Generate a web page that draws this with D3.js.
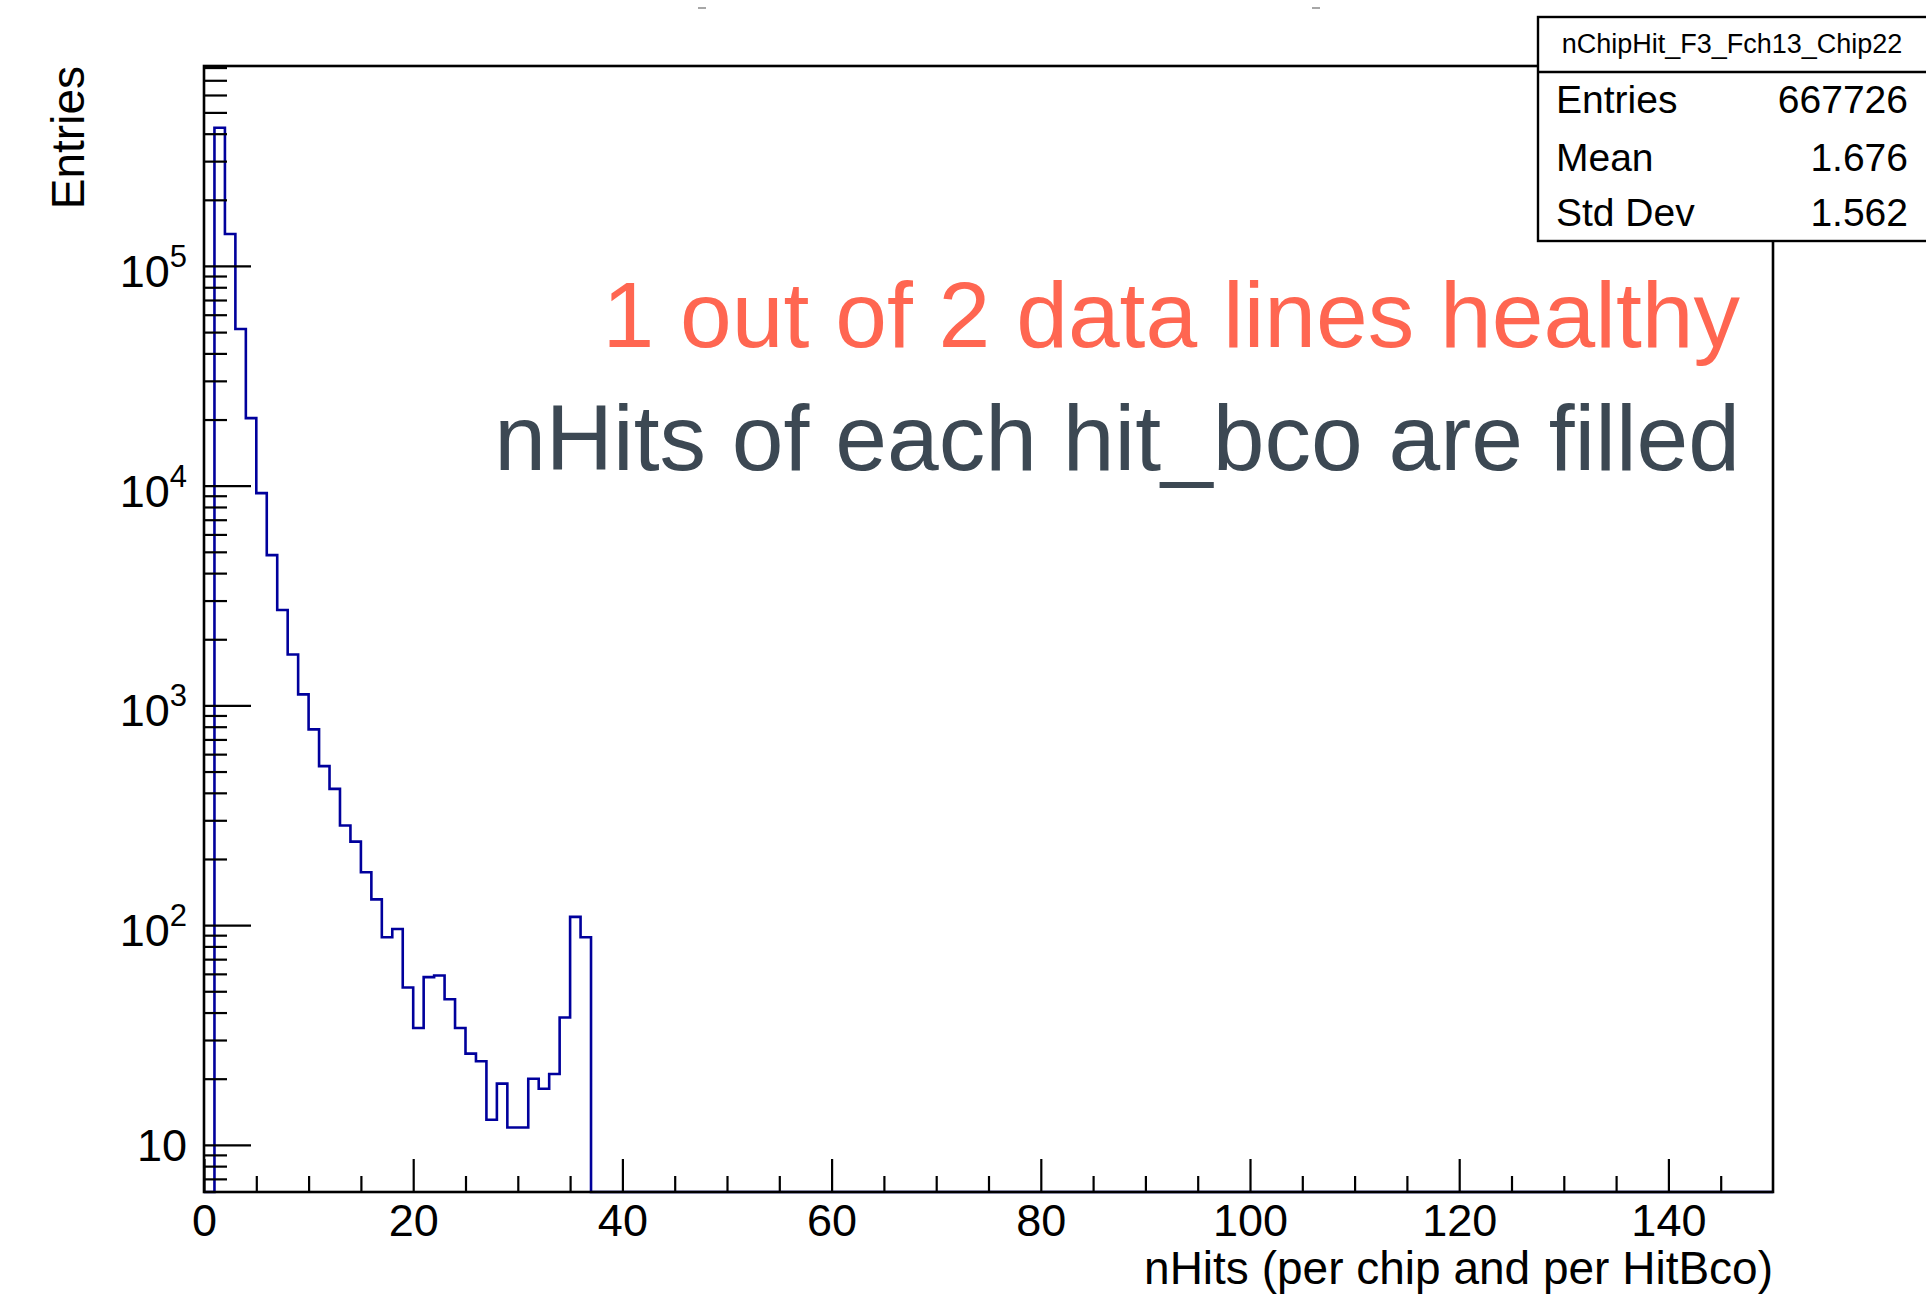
<!DOCTYPE html>
<html>
<head>
<meta charset="utf-8">
<script src="https://cdn.jsdelivr.net/npm/d3@7/dist/d3.min.js"></script>
<style>
  html, body { margin: 0; padding: 0; background: #ffffff; }
  svg { display: block; }
  text { font-family: "Liberation Sans", Arial, Helvetica, sans-serif; }
</style>
</head>
<body>
<svg id="chart" width="1926" height="1295"></svg>
<script>
// Histogram of nHits per chip and per HitBco (unit-width bins, low edges below)
const binLowEdges = [1, 2, 3, 4, 5, 6, 7, 8, 9, 10, 11, 12, 13, 14, 15, 16, 17, 18,
                     19, 20, 21, 22, 23, 24, 25, 26, 27, 28, 29, 30, 31, 32, 33, 34, 35, 36];
const binCounts = [425600, 139700, 51640, 20300, 9250, 4830, 2716, 1706, 1122, 778, 529, 417,
                   284, 240, 174, 131, 88, 96, 52, 34, 58, 59, 46, 34,
                   26, 24, 13, 19, 12, 12, 20, 18, 21, 38, 109, 88];
const binWidth = 1;

const xMajorTicks = [0, 20, 40, 60, 80, 100, 120, 140];
const xMinorTicks = [5, 10, 15, 25, 30, 35, 45, 50, 55, 65, 70, 75, 85, 90, 95,
                     105, 110, 115, 125, 130, 135, 145];
const yDecadeExponents = [1, 2, 3, 4, 5];

const histName = "nChipHit_F3_Fch13_Chip22";
const statLabels = ["Entries", "Mean", "Std Dev"];
const statValues = ["667726", "1.676", "1.562"];

const xTitle = "nHits (per chip and per HitBco)";
const yTitle = "Entries";
const noteLines = ["1 out of 2 data lines healthy", "nHits of each hit_bco are filled"];
const noteColors = ["#ff6651", "#3c4853"];

// ---- layout ----
const frame = { left: 204, right: 1773, top: 66, bottom: 1192 };
const xDomain = [0, 150];
const yDomain = [6.1, 8.13e5];

const svg = d3.select("#chart");

const x = d3.scaleLinear().domain(xDomain).range([frame.left, frame.right]);
const y = d3.scaleLog().domain(yDomain).range([frame.bottom, frame.top]);

// ---- histogram outline (step line) ----
const yMin = yDomain[0];
const pts = [[xDomain[0], yMin]];
binLowEdges.forEach((lo, i) => pts.push([lo, Math.max(binCounts[i], yMin)]));
const lastEdge = binLowEdges[binLowEdges.length - 1] + binWidth;
pts.push([lastEdge, yMin]);
pts.push([xDomain[1], yMin]);

const stepLine = d3.line()
  .x(d => x(d[0]))
  .y(d => y(d[1]))
  .curve(d3.curveStepAfter);

svg.append("path")
  .attr("d", stepLine(pts))
  .attr("fill", "none")
  .attr("stroke", "#00009c")
  .attr("stroke-width", 2.6)
  .attr("stroke-linejoin", "miter");

// ---- x axis ticks (pointing into the frame) ----
const xAxisMajor = d3.axisBottom(x)
  .tickValues(xMajorTicks)
  .tickSizeInner(-33)
  .tickSizeOuter(0)
  .tickPadding(12)
  .tickFormat(d3.format("d"));

const gxMaj = svg.append("g")
  .attr("transform", `translate(0,${frame.bottom})`)
  .call(xAxisMajor);
gxMaj.select(".domain").remove();
gxMaj.selectAll(".tick line").attr("stroke", "#000").attr("stroke-width", 2.2);
gxMaj.selectAll(".tick text")
  .attr("font-size", 45)
  .attr("fill", "#000")
  .style("font-family", "'Liberation Sans', Arial, sans-serif");

const xAxisMinor = d3.axisBottom(x)
  .tickValues(xMinorTicks)
  .tickSizeInner(-16)
  .tickSizeOuter(0)
  .tickFormat("");
const gxMin = svg.append("g")
  .attr("transform", `translate(0,${frame.bottom})`)
  .call(xAxisMinor);
gxMin.select(".domain").remove();
gxMin.selectAll(".tick line").attr("stroke", "#000").attr("stroke-width", 2.2);

// ---- y axis ticks (log, pointing into the frame) ----
const yMajorValues = yDecadeExponents.map(e => Math.pow(10, e));
const yMinorValues = [];
for (let e = 0; e <= 5; e++) {
  for (let m = 2; m <= 9; m++) {
    const v = m * Math.pow(10, e);
    if (v >= yDomain[0] && v <= yDomain[1]) yMinorValues.push(v);
  }
}

const gyMaj = svg.append("g")
  .attr("transform", `translate(${frame.left},0)`)
  .call(d3.axisLeft(y).tickValues(yMajorValues).tickSizeInner(-47).tickSizeOuter(0).tickFormat(""));
gyMaj.select(".domain").remove();
gyMaj.selectAll(".tick line").attr("stroke", "#000").attr("stroke-width", 2.2);

const gyMin = svg.append("g")
  .attr("transform", `translate(${frame.left},0)`)
  .call(d3.axisLeft(y).tickValues(yMinorValues).tickSizeInner(-23).tickSizeOuter(0).tickFormat(""));
gyMin.select(".domain").remove();
gyMin.selectAll(".tick line").attr("stroke", "#000").attr("stroke-width", 2.2);

// y tick labels as 10^n
const yLabelRight = 187;
yDecadeExponents.forEach(e => {
  const yy = y(Math.pow(10, e));
  const t = svg.append("text")
    .attr("text-anchor", "end")
    .attr("fill", "#000")
    .attr("font-size", 45);
  if (e === 1) {
    t.attr("x", yLabelRight).attr("y", yy + 16).text("10");
  } else {
    t.attr("x", yLabelRight).attr("y", yy + 21);
    t.append("tspan").text("10");
    t.append("tspan").attr("font-size", 31).attr("dy", -20).text(String(e));
  }
});

// ---- frame ----
svg.append("rect")
  .attr("x", frame.left)
  .attr("y", frame.top)
  .attr("width", frame.right - frame.left)
  .attr("height", frame.bottom - frame.top)
  .attr("fill", "none")
  .attr("stroke", "#000")
  .attr("stroke-width", 2.6);

// ---- axis titles ----
svg.append("text")
  .attr("x", frame.right)
  .attr("y", 1284)
  .attr("text-anchor", "end")
  .attr("font-size", 46)
  .attr("fill", "#000")
  .text(xTitle);

svg.append("text")
  .attr("transform", `translate(84,${frame.top}) rotate(-90)`)
  .attr("text-anchor", "end")
  .attr("font-size", 46)
  .attr("fill", "#000")
  .text(yTitle);

// ---- statistics box ----
const box = { x: 1538, y: 17, w: 400, h: 224, titleH: 55 };
svg.append("rect")
  .attr("x", box.x).attr("y", box.y)
  .attr("width", box.w).attr("height", box.h)
  .attr("fill", "#fff")
  .attr("stroke", "#000")
  .attr("stroke-width", 2.4);
svg.append("line")
  .attr("x1", box.x).attr("x2", box.x + box.w)
  .attr("y1", box.y + box.titleH).attr("y2", box.y + box.titleH)
  .attr("stroke", "#000").attr("stroke-width", 2.4);
svg.append("text")
  .attr("x", (box.x + 1926) / 2)
  .attr("y", 53)
  .attr("text-anchor", "middle")
  .attr("font-size", 27)
  .attr("fill", "#000")
  .text(histName);

const statBaselines = [113, 171, 226];
statLabels.forEach((lab, i) => {
  svg.append("text")
    .attr("x", 1556).attr("y", statBaselines[i])
    .attr("font-size", 39).attr("fill", "#000")
    .text(lab);
  svg.append("text")
    .attr("x", 1908).attr("y", statBaselines[i])
    .attr("text-anchor", "end")
    .attr("font-size", 39).attr("fill", "#000")
    .text(statValues[i]);
});

// ---- annotation ----
const noteBaselines = [347, 470];
noteLines.forEach((s, i) => {
  svg.append("text")
    .attr("x", 1740).attr("y", noteBaselines[i])
    .attr("text-anchor", "end")
    .attr("font-size", 93)
    .attr("fill", noteColors[i])
    .text(s);
});

// small marks along the top edge
[[698, 706], [1312, 1320]].forEach(([a, b]) => {
  svg.append("line")
    .attr("x1", a).attr("x2", b).attr("y1", 8).attr("y2", 8)
    .attr("stroke", "#8a8a8a").attr("stroke-width", 1.5);
});
</script>
</body>
</html>
